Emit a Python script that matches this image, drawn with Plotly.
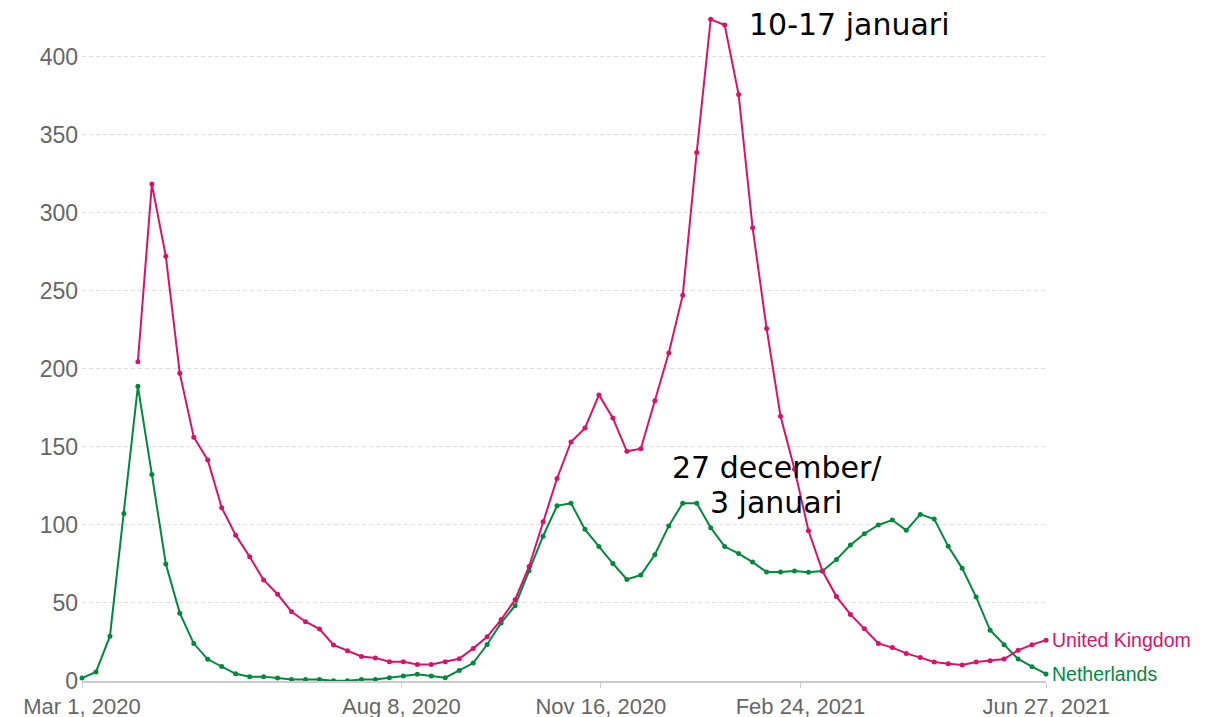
import pandas as pd
import plotly.graph_objects as go

dates = pd.date_range("2020-03-01", periods=70, freq="7D")

uk = [None, None, None, None,
      204.6, 318.5, 272.2, 197.2, 156.3, 141.7, 111.1, 93.5, 79.6, 64.8,
      55.6, 44.4, 38.0, 33.3, 23.1, 19.4, 15.7, 14.8, 12.3, 12.3,
      10.6, 10.6, 12.3, 14.3, 20.9, 28.3, 39.4, 52.1, 73.4, 102.1,
      129.8, 153.2, 162.1, 183.4, 168.5, 147.2, 148.9, 179.6, 210.2, 247.3,
      338.8, 424.1, 420.5, 375.9, 290.6, 226.0, 169.7, 135.7, 96.3, 70.5,
      54.1, 42.7, 33.5, 24.1, 21.4, 17.7, 15.0, 12.2, 11.1, 10.3,
      12.2, 13.0, 14.1, 19.7, 23.3, 26.1]

nl = [1.9, 5.8, 28.7, 107.4, 188.9, 132.4, 75.0, 43.5, 24.0, 13.9,
      9.3, 4.6, 2.8, 2.8, 1.9, 0.9, 0.9, 0.9, 0.2, 0.2,
      0.9, 0.9, 2.1, 3.2, 4.3, 3.2, 2.1, 6.8, 11.5, 23.4,
      37.2, 48.3, 70.6, 92.8, 112.3, 114.0, 97.2, 86.2, 75.3, 65.1,
      67.9, 80.9, 99.4, 114.0, 114.0, 98.3, 86.2, 81.7, 76.2, 69.8,
      69.8, 70.5, 69.7, 70.5, 77.8, 87.2, 94.4, 100.0, 103.2, 96.6,
      106.8, 103.8, 86.3, 72.2, 53.8, 32.5, 23.3, 14.1, 9.2, 4.5]

x_tick_vals = ["2020-03-01", "2020-08-08", "2020-11-16", "2021-02-24", "2021-06-27"]
x_tick_text = ["Mar 1, 2020", "Aug 8, 2020", "Nov 16, 2020", "Feb 24, 2021", "Jun 27, 2021"]
y_tick_vals = [0, 50, 100, 150, 200, 250, 300, 350, 400]

series_names = ["United Kingdom", "Netherlands"]
UK_COLOR = "#d6136b"
NL_COLOR = "#03873f"

fig = go.Figure()
for name, vals, col in [(series_names[1], nl, NL_COLOR), (series_names[0], uk, UK_COLOR)]:
    fig.add_trace(go.Scatter(
        x=dates, y=vals, mode="lines+markers", name=name,
        line=dict(color=col, width=2),
        marker=dict(color=col, size=5),
        cliponaxis=False, hoverinfo="skip", connectgaps=False,
    ))

# end-of-line labels
for name, vals, col in [(series_names[0], uk, UK_COLOR), (series_names[1], nl, NL_COLOR)]:
    fig.add_annotation(x=dates[-1], y=vals[-1], text=name, showarrow=False,
                       xanchor="left", yanchor="middle", xshift=4,
                       font=dict(family="Liberation Sans", size=19.5, color=col))

ann_font = dict(family="DejaVu Sans", size=30, color="#000000")
fig.add_annotation(x="2021-01-28 05:00", y=421, text="10-17 januari", showarrow=False,
                   xanchor="left", yanchor="middle", font=ann_font)
fig.add_annotation(x="2021-02-12 10:00", y=137, text="27 december/", showarrow=False,
                   xanchor="center", yanchor="middle", font=ann_font)
fig.add_annotation(x="2021-02-11 17:00", y=114.5, text="3 januari", showarrow=False,
                   xanchor="center", yanchor="middle", font=ann_font)
fig.add_annotation(xref="paper", yref="paper", x=1.1743, y=-0.044, text="1",
                   showarrow=False, xanchor="left", yanchor="middle",
                   font=dict(family="Liberation Sans", size=22, color="#666666"))

fig.update_layout(
    width=1219, height=717,
    margin=dict(l=74, r=181, t=2, b=44),
    paper_bgcolor="white", plot_bgcolor="white",
    showlegend=False,
    xaxis=dict(
        type="date",
        range=["2020-03-01", "2021-06-27"],
        tickvals=x_tick_vals, ticktext=x_tick_text,
        showgrid=False, showline=True, linecolor="#cccccc", linewidth=1.5,
        ticks="outside", ticklen=5, tickcolor="#cccccc",
        tickfont=dict(family="Liberation Sans", size=22, color="#666666"),
        zeroline=False,
    ),
    yaxis=dict(
        range=[0, 430.1],
        tickvals=y_tick_vals,
        showgrid=True, gridcolor="#dddddd", griddash="4px,3px", gridwidth=1,
        zeroline=False, showline=False, ticks="",
        ticklabelstandoff=3,
        tickfont=dict(family="Liberation Sans", size=23, color="#666666"),
    ),
)

fig.write_html("out.html")
